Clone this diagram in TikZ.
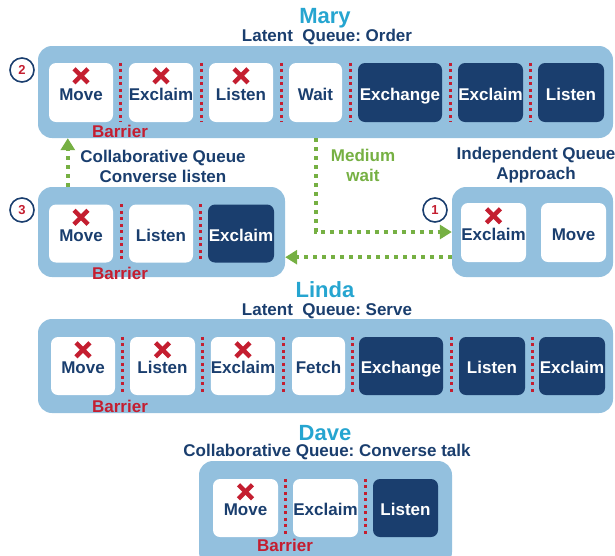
\documentclass[tikz,border=0pt]{standalone}
\usepackage{fontspec}
\setmainfont{Liberation Sans}
\usetikzlibrary{arrows.meta,calc}
\definecolor{navy}{RGB}{26,62,110}
\definecolor{panefill}{RGB}{147,192,222}
\definecolor{titlecyan}{RGB}{38,165,208}
\definecolor{barred}{RGB}{196,30,48}
\definecolor{flowgreen}{RGB}{118,176,67}
\tikzset{every node/.style={draw=none,inner sep=0pt,text=navy,font=\bfseries\fontsize{17}{20}\selectfont},
  pane/.style={fill=panefill,rounded corners=14pt},
  task/.style={fill=white,rounded corners=7pt,minimum height=59pt,text height=15pt,text depth=0pt},
  done/.style={task,fill=navy,text=white},
  who/.style={text=titlecyan,font=\bfseries\fontsize{22}{22}\selectfont},
  marker/.style={circle,draw=navy,line width=1.6pt,minimum size=24pt,text=barred,font=\bfseries\fontsize{13}{13}\selectfont},
  barlabel/.style={text=barred},
  sep/.style={draw=barred,line width=3pt,dash pattern=on 3pt off 3.5pt},
  cross/.style={draw=barred,line width=4.5pt},
  flow/.style={draw=flowgreen,line width=4pt,dash pattern=on 4pt off 5pt,-{Triangle[length=12pt,width=14pt]}}}

\begin{document}
\frenchspacing
\begin{tikzpicture}[x=1pt,y=-1pt]
      \useasboundingbox (0,0) rectangle (615,555);
      \node[who] (mt) at (325,18) {Mary};
      \node (mq) at (327,37) {Latent~ Queue: Order};
      \node[pane,minimum width=575pt,minimum height=92pt] (mary) at (325.5,92) {};
      \node[task,minimum width=64pt] (m1) at (81,92.5) {Move};
      \node[task,minimum width=64pt] (m2) at (161,92.5) {Exclaim};
      \node[task,minimum width=64pt] (m3) at (241,92.5) {Listen};
      \node[task,minimum width=53pt] (m4) at (315.5,92.5) {Wait};
      \node[done,minimum width=84pt] (m5) at (400,92.5) {Exchange};
      \node[done,minimum width=65pt] (m6) at (490.5,92.5) {Exclaim};
      \node[done,minimum width=66pt] (m7) at (571,92.5) {Listen};
      \node[marker] (n2) at (22,70) {2};
      \node[barlabel] (mb) at (120,131) {Barrier};

      \node[align=center] (ct) at (163,166) {Collaborative Queue\\Converse listen};
      \node[pane,minimum width=247pt,minimum height=90pt] (cq) at (161.5,232) {};
      \node[task,minimum width=64pt,minimum height=58pt] (c1) at (81,233.5) {Move};
      \node[task,minimum width=64pt,minimum height=58pt] (c2) at (161,233.5) {Listen};
      \node[done,minimum width=66pt,minimum height=58pt] (c3) at (241,233.5) {Exclaim};
      \node[marker] (n3) at (22,210) {3};
      \node[barlabel] (cb) at (120,273) {Barrier};

      \node[align=center] (it) at (536,165) {Independent Queue\\Approach};
      \node[pane,minimum width=161pt,minimum height=90pt] (iq) at (532.5,232) {};
      \node[task,minimum width=65pt] (i1) at (493.5,232.5) {Exclaim};
      \node[task,minimum width=65pt] (i2) at (573.5,232.5) {Move};
      \node[marker] (n1) at (435,210) {1};
      \node[align=center,text=flowgreen] (mw) at (363,165) {Medium\\wait};

      \node[who] (lt) at (325,290) {Linda};
      \node (lq) at (327,311) {Latent~ Queue: Serve};
      \node[pane,minimum width=575pt,minimum height=94pt] (linda) at (325.5,366) {};
      \node[task,minimum width=64pt,minimum height=58pt] (l1) at (83,366) {Move};
      \node[task,minimum width=65pt,minimum height=58pt] (l2) at (162.5,366) {Listen};
      \node[task,minimum width=64pt,minimum height=58pt] (l3) at (243,366) {Exclaim};
      \node[task,minimum width=53pt,minimum height=58pt] (l4) at (318.5,366) {Fetch};
      \node[done,minimum width=84pt,minimum height=58pt] (l5) at (401,366) {Exchange};
      \node[done,minimum width=66pt,minimum height=58pt] (l6) at (492,366) {Listen};
      \node[done,minimum width=66pt,minimum height=58pt] (l7) at (572,366) {Exclaim};
      \node[barlabel] (lb) at (120,406) {Barrier};

      \node[who] (dt) at (325,433) {Dave};
      \node (dq) at (327,452) {Collaborative Queue: Converse talk};
      \node[pane,minimum width=253pt,minimum height=105pt] (dave) at (325.5,513.5) {};
      \node[task,minimum width=65pt,minimum height=58pt] (d1) at (245.5,508) {Move};
      \node[task,minimum width=65pt,minimum height=58pt] (d2) at (325.5,508) {Exclaim};
      \node[done,minimum width=65pt,minimum height=58pt] (d3) at (405.5,508) {Listen};
      \node[barlabel] (db) at (285,545) {Barrier};

\foreach \a/\b in {m1/m2,m2/m3,m3/m4,m4/m5,m5/m6,m6/m7,c1/c2,c2/c3,l1/l2,l2/l3,l3/l4,l4/l5,l5/l6,l6/l7,d1/d2,d2/d3}
  \draw[sep] ($(\a.north east)!.5!(\b.north west)$) -- ($(\a.south east)!.5!(\b.south west)$);
\foreach \b in {m1,m2,m3,c1,i1,l1,l2,l3,d1} {
  \draw[cross] ([shift={(-7pt,-6pt)}]\b.north) -- ([shift={(7pt,-20pt)}]\b.north);
  \draw[cross] ([shift={(7pt,-6pt)}]\b.north) -- ([shift={(-7pt,-20pt)}]\b.north);
}
      \draw[flow] (m4.south |- mary.south) |- (iq.west);
      \draw[flow] ([yshift=20pt]iq.south west) -- ([yshift=20pt]cq.south east);
      \draw[flow] ([xshift=30pt]cq.north west) -- ([xshift=30pt]mary.south west);
    \end{tikzpicture}
\end{document}
